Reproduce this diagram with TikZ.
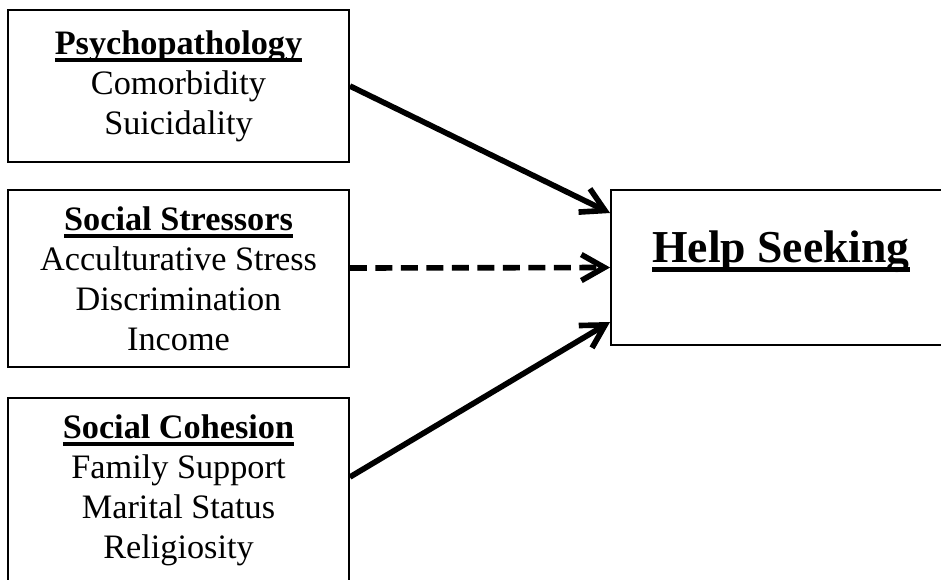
\documentclass[tikz,border=0pt]{standalone}
\usepackage{fontspec}
\setmainfont{Liberation Serif}
\usetikzlibrary{arrows.meta}
\newcommand\hdline[1]{\setbox0\hbox{\textbf{#1}}\rlap{\rule[-0.22em]{\wd0}{0.1em}}\box0}
\begin{document}
\begin{tikzpicture}[x=0.02cm,y=-0.02cm,
    box/.style={draw,line width=1.1pt,align=center,minimum width=6.82cm,
      font=\fontsize{19.5}{22.8}\selectfont},
    path/.style={line width=3.2pt,-{Straight Barb[length=0.46cm,width=0.52cm]}}]
        \useasboundingbox (0,0) rectangle (941,579);
        \clip (0,0) rectangle (941,579);
        \node[box,minimum height=3.04cm] (psy) at (178.5,86) {\hdline{Psychopathology}\\Comorbidity\\Suicidality};
        \node[box,minimum height=3.54cm] (stress) at (178.5,278.5) {\hdline{Social Stressors}\\Acculturative Stress\\Discrimination\\Income};
        \node[box,minimum height=3.68cm] (cohes) at (178.5,490) {\hdline{Social Cohesion}\\Family Support\\Marital Status\\Religiosity};
        \node[draw,line width=1.1pt,minimum width=6.8cm,minimum height=3.1cm,
          text height=0.7cm,text depth=0.92cm,font=\fontsize{26}{31}\selectfont] (help) at (781,267.5) {\hdline{Help Seeking}};

        \draw[path] (psy.east)--([yshift=1.09cm]help.west);
        \draw[path,dash pattern=on 0.34cm off 0.17cm] ([yshift=0.21cm]stress.east)--(help.west);
        \draw[path] ([yshift=0.26cm]cohes.east)--([yshift=-1.09cm]help.west);
      \end{tikzpicture}
\end{document}
